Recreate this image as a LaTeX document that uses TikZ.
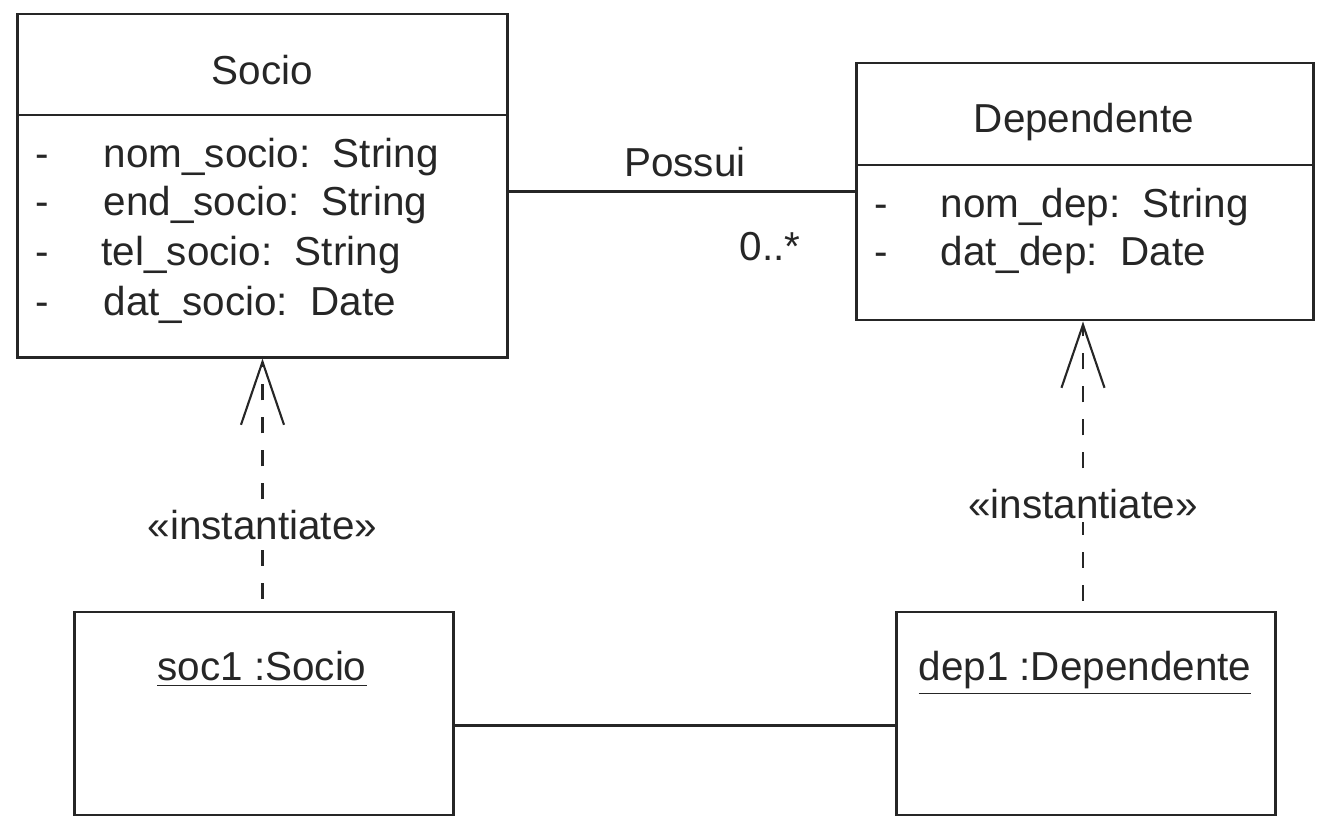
\documentclass[tikz,border=0pt]{standalone}
\usepackage{fontspec}
\setmainfont{Liberation Sans}
\usetikzlibrary{arrows.meta}
\begin{document}
\begin{tikzpicture}[x=0.01cm,y=-0.01cm,font=\fontsize{11.5}{14}\selectfont,
  umlbox/.style={draw=black!85,line width=0.8pt,inner sep=0pt},
  attr/.style={anchor=base west,inner sep=0pt,text=black!85},
  instline/.style={draw=black!85,line width=0.6pt,dash pattern=on 0.16cm off 0.17cm,
    -{Straight Barb[length=0.63cm,width=0.43cm,line width=0.6pt]}}]
\useasboundingbox (0,0) rectangle (1323,820);
% classes
\node[umlbox,minimum width=4.89cm,minimum height=3.43cm] (socio) at (262.5,185.5) {};
\draw[black!85,line width=0.8pt] (socio.west |- 0,115) -- (socio.east |- 0,115);
\node[text=black!85] (sociotitle) at (262.5,70) {Socio};
\node[attr] (d1) at (35,167) {-};
\node[attr] (nomsocio) at (103,167) {nom\_socio:\ \ String};
\node[attr] (d2) at (35,215) {-};
\node[attr] (endsocio) at (103,215) {end\_socio:\ \ String};
\node[attr] (d3) at (35,265) {-};
\node[attr] (telsocio) at (101,265) {tel\_socio:\ \ String};
\node[attr] (d4) at (35,315) {-};
\node[attr] (datsocio) at (103,315) {dat\_socio:\ \ Date};

\node[umlbox,minimum width=4.56cm,minimum height=2.57cm] (dependente) at (1085,191.5) {};
\draw[black!85,line width=0.8pt] (dependente.west |- 0,165) -- (dependente.east |- 0,165);
\node[text=black!85] (deptitle) at (1084,122) {Dependente};
\node[attr] (d5) at (874,217) {-};
\node[attr] (nomdep) at (940,217) {nom\_dep:\ \ String};
\node[attr] (d6) at (874,265) {-};
\node[attr] (datdep) at (940,265) {dat\_dep:\ \ Date};

% objects
\node[umlbox,minimum width=3.78cm,minimum height=2.03cm] (soc1) at (264,713.5) {};
\node[anchor=base,inner sep=0pt,text=black!85] (soc1name) at (262,680) {\underline{soc1 :Socio}};
\node[umlbox,minimum width=3.78cm,minimum height=2.03cm] (dep1) at (1086,713.5) {};
\node[anchor=base,inner sep=0pt,text=black!85] (dep1name) at (1085,680) {\underline{dep1 :Dependente}};

% association and link
\draw[black!85,line width=0.6pt] (socio.east |- dependente.west) -- (dependente.west);
\node[text=black!85] (possui) at (685,162) {Possui};
\node[text=black!85] (mult) at (770,247) {0..*};
\draw[black!85,line width=0.6pt] ([yshift=-0.12cm]soc1.east) -- ([yshift=-0.12cm]dep1.west);

% instantiation
\draw[instline,shorten <=0.12cm] (soc1.north -| socio.south) -- (socio.south)
  node[pos=0.34,fill=white,inner sep=1pt,text=black!85] (inst1) {«instantiate»};
\draw[instline,shorten <=0.1cm] (dep1.north -| 1083,0) -- (dependente.south -| 1083,0)
  node[pos=0.37,fill=white,inner sep=1pt,text=black!85] (inst2) {«instantiate»};
\end{tikzpicture}
\end{document}
